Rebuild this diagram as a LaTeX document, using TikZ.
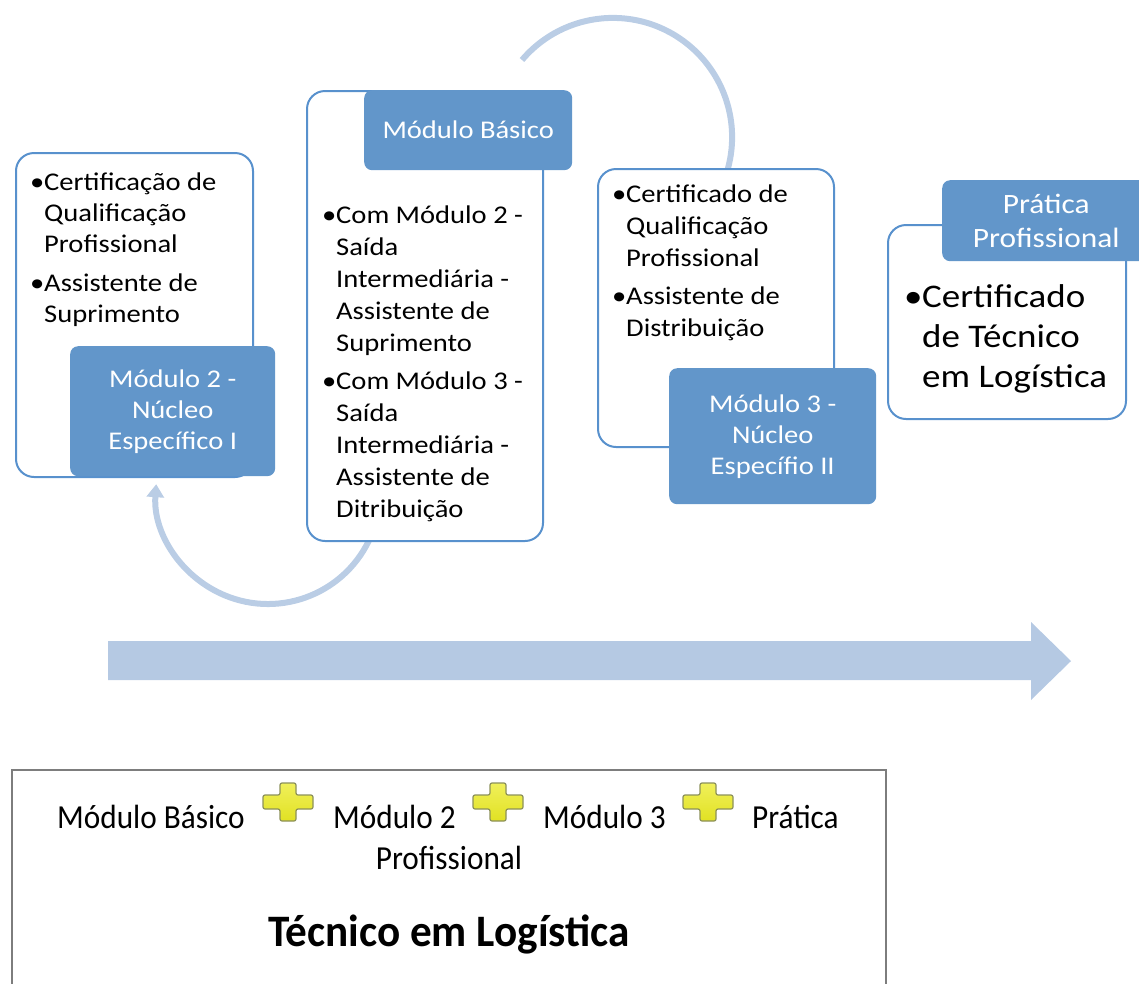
\documentclass[tikz,border=0pt]{standalone}
\usepackage{fontspec}
\setmainfont{Carlito}[FakeStretch=1.12]
\newfontfamily\condfont{Carlito}[FakeStretch=0.93]
\newfontfamily\titlefont{Carlito}[FakeStretch=0.96]
\usetikzlibrary{arrows.meta}
\definecolor{bfill}{RGB}{98,150,202}
\definecolor{bline}{RGB}{88,145,205}
\definecolor{arcc}{RGB}{186,205,229}
\definecolor{arrc}{RGB}{181,201,227}
\definecolor{plusd}{RGB}{140,145,90}
\definecolor{frameg}{RGB}{125,125,125}
\newcommand{\mybul}{\makebox[14pt][l]{•}}
\newcommand{\myind}{\hspace*{14pt}}
\begin{document}
\begin{tikzpicture}[x=1pt,y=1pt,
  wbox/.style={draw=bline,line width=2pt,rounded corners=18pt,fill=white,inner sep=0pt,anchor=north west},
  bbox/.style={fill=bfill,rounded corners=8pt,text=white,align=center,inner sep=0pt,anchor=north west,font=\fontsize{25.5}{31}\selectfont},
  btxt/.style={anchor=base west,inner sep=0pt,font=\fontsize{25.5}{32}\selectfont},
  conn/.style={draw=arcc,line width=6pt},
  ctxt/.style={inner sep=0pt,font=\condfont\fontsize{33.6}{41}\selectfont},
  plusmark/.pic={\draw[plusd,line width=1.2pt,rounded corners=2pt,top color={rgb,255:red,240;green,240;blue,90},bottom color={rgb,255:red,225;green,225;blue,35}]
    (-8,19) -- (8,19) -- (8,7) -- (25,7) -- (25,-7) -- (8,-7) -- (8,-19) -- (-8,-19) -- (-8,-7) -- (-25,-7) -- (-25,7) -- (-8,7) -- cycle;}
]
\useasboundingbox (0,0) rectangle (1139,-983);

% curved connectors (behind boxes)
\coordinate (a1s) at (373.2,-530.3);
\draw[conn,-{Triangle[width=17pt,length=13pt]}] (a1s) arc[start angle=-20,end angle=-184,radius=112];
\coordinate (a2s) at (522,-60);
\draw[conn] (a2s) arc[start angle=139.7,end angle=-25,radius=119.2];

% big arrow
\fill[arrc] (108,-641) -- (1031,-641) -- (1031,-622) -- (1071,-661) -- (1031,-700) -- (1031,-680) -- (108,-680) -- cycle;

% group 1
\node[wbox,minimum width=237pt,minimum height=324pt] (w1) at (15,-152) {};
\node[btxt] (t1) at (30,-190) {\parbox[t]{230pt}{\fontsize{25.5}{31}\selectfont
  \mybul Certificação de\\\myind Qualificação\\\myind Profissional\\[8pt]\mybul Assistente de\\\myind Suprimento}};
\node[bbox,minimum width=205pt,minimum height=130pt] (m2) at (70,-346) {Módulo 2 -\\Núcleo\\Específico I};

% group 2
\node[wbox,minimum width=236pt,minimum height=450pt] (w2) at (306,-90) {};
\node[bbox,minimum width=208pt,minimum height=80pt] (mb) at (364,-90) {Módulo Básico};
\node[btxt] (t2) at (322,-223) {\parbox[t]{230pt}{\fontsize{25.5}{32}\selectfont
  \mybul Com Módulo 2 -\\\myind Saída\\\myind Intermediária -\\\myind Assistente de\\\myind Suprimento\\[6pt]\mybul Com Módulo 3 -\\\myind Saída\\\myind Intermediária -\\\myind Assistente de\\\myind Ditribuição}};

% group 3
\node[wbox,minimum width=236pt,minimum height=278pt] (w3) at (597,-168) {};
\node[btxt] (t3) at (612,-202) {\parbox[t]{230pt}{\fontsize{25.5}{32}\selectfont
  \mybul Certificado de\\\myind Qualificação\\\myind Profissional\\[6pt]\mybul Assistente de\\\myind Distribuição}};
\node[bbox,minimum width=207pt,minimum height=136pt] (m3) at (669,-368) {Módulo 3 -\\Núcleo\\Específio II};

% group 4
\node[wbox,minimum width=238pt,minimum height=194pt] (w4) at (887,-224) {};
\node[bbox,minimum width=208pt,minimum height=81pt,font=\fontsize{28}{34}\selectfont] (mp) at (942,-180) {Prática\\Profissional};
\node[btxt] (t4) at (904,-307) {\parbox[t]{230pt}{\fontsize{33}{40}\selectfont
  \makebox[18pt][l]{•}Certificado\\\hspace*{18pt}de Técnico\\\hspace*{18pt}em Logística}};

% bottom frame
\draw[frameg,line width=2.5pt] (12,-1000) -- (12,-770) -- (886,-770) -- (886,-1000);
\node[ctxt,anchor=base west] (s1) at (57,-828) {Módulo Básico};
\pic at (288,-802) {plusmark};
\node[ctxt,anchor=base west] (s2) at (333,-828) {Módulo 2};
\pic at (498,-802) {plusmark};
\node[ctxt,anchor=base west] (s3) at (543,-828) {Módulo 3};
\pic at (708,-802) {plusmark};
\node[ctxt,anchor=base west] (s4) at (752,-828) {Prática};
\node[ctxt,anchor=base] (s5) at (449,-869) {Profissional};
\node[inner sep=0pt,anchor=base,font=\titlefont\bfseries\fontsize{45}{50}\selectfont] (title) at (449,-946) {Técnico em Logística};
\end{tikzpicture}
\end{document}
